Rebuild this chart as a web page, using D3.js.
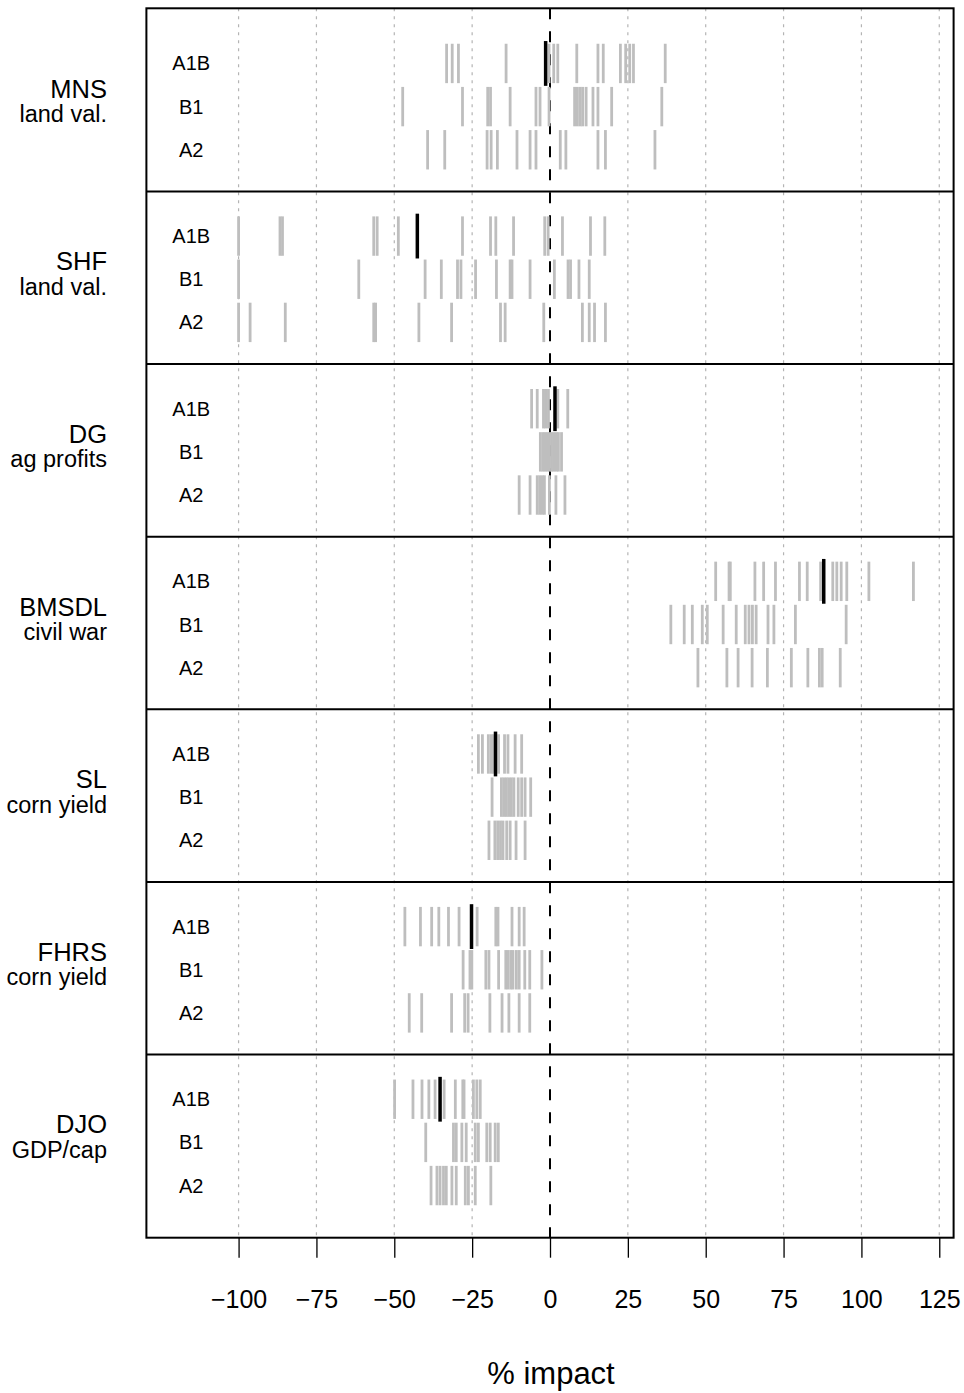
<!DOCTYPE html>
<html>
<head>
<meta charset="utf-8">
<script src="https://cdn.jsdelivr.net/npm/d3@7"></script>
<style>
  body { margin: 0; background: #fff; }
  svg { display: block; font-family: "Liberation Sans", Arial, sans-serif; }
</style>
</head>
<body>
<div id="chart"></div>
<script>
// studies, top to bottom
const studies = ["MNS", "SHF", "DG", "BMSDL", "SL", "FHRS", "DJO"];
const outcomes = ["land val.", "land val.", "ag profits", "civil war", "corn yield", "corn yield", "GDP/cap"];
const scenarios = ["A1B", "B1", "A2"];

// model impacts (%), one list per scenario: A1B, B1, A2
const mns = [
  [-33.2, -31.4, -29.4, -14.1, -0.3, 1.2, 2.5, 8.6, 15.4, 17.1, 22.6, 24.3, 25.6, 26.8, 37.0],
  [-47.3, -28.1, -20.0, -19.1, -12.8, -4.5, -3.2, -0.3, 7.9, 8.8, 9.7, 10.5, 11.6, 13.8, 15.4, 19.8, 35.9],
  [-39.3, -33.8, -20.2, -18.9, -16.9, -10.6, -6.4, -4.5, 3.3, 5.1, 15.4, 17.8, 33.7]
];
const shf = [
  [-100, -86.7, -85.9, -56.6, -55.5, -48.7, -28.1, -19.1, -17.4, -11.7, -1.7, -0.6, 4.0, 13.0, 17.6],
  [-100, -61.4, -40.1, -34.9, -29.7, -28.6, -23.9, -17.2, -12.8, -12.2, -6.4, 1.4, 5.8, 6.6, 9.3, 12.6],
  [-100, -96.3, -85.0, -56.6, -56.0, -42.1, -31.6, -15.9, -14.4, -2.0, 10.4, 12.6, 14.3, 17.8]
];
const dg = [
  [-5.9, -4.1, -2.1, -1.4, -0.5, 2.5, 5.7],
  [-3.1, -2.3, -1.6, -0.9, -0.2, 0.5, 1.2, 2.0, 2.7, 3.7],
  [-9.9, -6.4, -4.1, -3.3, -2.5, -1.8, -0.2, 1.9, 4.8]
];
const bmsdl = [
  [53.2, 57.5, 57.9, 65.8, 68.6, 72.4, 80.1, 82.6, 86.9, 90.8, 92.1, 93.5, 95.3, 102.4, 116.7],
  [38.8, 43.1, 45.7, 48.9, 50.5, 55.6, 59.8, 62.7, 63.9, 65.0, 66.2, 70.0, 71.9, 78.8, 95.1],
  [47.5, 56.8, 60.4, 64.9, 69.8, 77.5, 82.8, 86.5, 87.4, 93.2]
];
const sl = [
  [-23.0, -21.7, -19.8, -18.9, -18.2, -16.5, -14.6, -13.5, -11.2, -9.1],
  [-18.6, -15.6, -14.8, -14.0, -13.2, -12.4, -11.6, -10.2, -9.1, -8.0, -6.2],
  [-19.6, -17.7, -16.8, -15.9, -15.1, -13.9, -12.8, -10.9, -8.0]
];
const fhrs = [
  [-46.6, -41.6, -38.0, -35.7, -32.6, -29.2, -23.4, -17.4, -16.7, -12.2, -9.9, -8.3],
  [-27.9, -25.7, -25.1, -20.6, -19.6, -16.5, -14.2, -13.5, -12.6, -11.9, -10.8, -9.9, -8.1, -6.5, -2.6],
  [-45.2, -41.2, -31.6, -27.4, -26.3, -19.3, -15.4, -13.2, -9.9, -6.5]
];
const djo = [
  [-49.9, -44.0, -41.1, -38.9, -36.9, -34.0, -30.4, -28.0, -27.6, -24.6, -23.5, -22.4],
  [-39.9, -31.0, -30.1, -28.3, -26.9, -24.0, -23.0, -20.3, -19.2, -17.6, -16.6],
  [-38.2, -36.3, -35.3, -34.2, -33.3, -31.5, -30.1, -27.2, -26.2, -24.0, -19.0]
];
const impacts = [mns, shf, dg, bmsdl, sl, fhrs, djo];

// A1B ensemble mean per study
const means = [-1.4, -42.6, 1.6, 87.9, -17.5, -25.2, -35.3];

const xTicks = [-100, -75, -50, -25, 0, 25, 50, 75, 100, 125];

const width = 964, height = 1393;
const plotTop = 8.3, plotBottom = 1237.7;

const svg = d3.select("#chart").append("svg")
    .attr("width", width)
    .attr("height", height);

const x = d3.scaleLinear().domain([-129.6, 129.6]).range([146.4, 953.6]);
// each study takes 4 units: rows at 1,2,3, separators at multiples of 4
const y = d3.scaleLinear().domain([-0.243, 28.243]).range([plotTop, plotBottom]);
const rowY = (p, r) => y(p * 4 + r + 1) + 1.5;

// dashed grid
svg.append("g").selectAll("line")
    .data(xTicks.filter(d => d !== 0))
  .enter().append("line")
    .attr("x1", d => x(d)).attr("x2", d => x(d))
    .attr("y1", plotTop).attr("y2", plotBottom)
    .attr("stroke", "#b4b4b4")
    .attr("stroke-width", 1.2)
    .attr("stroke-dasharray", "3,5");

// zero line
svg.append("line")
    .attr("x1", x(0)).attr("x2", x(0))
    .attr("y1", plotTop).attr("y2", plotBottom)
    .attr("stroke", "#000")
    .attr("stroke-width", 2)
    .attr("stroke-dasharray", "11,12");

// model ticks
const bars = [];
impacts.forEach((study, p) => {
  study.forEach((vals, r) => {
    vals.forEach(v => bars.push({ p, r, v }));
  });
});

svg.append("g").selectAll("line")
    .data(bars)
  .enter().append("line")
    .attr("x1", d => x(d.v)).attr("x2", d => x(d.v))
    .attr("y1", d => rowY(d.p, d.r) - 19.7)
    .attr("y2", d => rowY(d.p, d.r) + 19.7)
    .attr("stroke", "#bebebe")
    .attr("stroke-width", 2.8);

// means
svg.append("g").selectAll("line")
    .data(means)
  .enter().append("line")
    .attr("x1", d => x(d)).attr("x2", d => x(d))
    .attr("y1", (d, p) => rowY(p, 0) - 22.4)
    .attr("y2", (d, p) => rowY(p, 0) + 22.4)
    .attr("stroke", "#000")
    .attr("stroke-width", 3.5);

// separators and box
svg.append("g").selectAll("line")
    .data(d3.range(1, studies.length))
  .enter().append("line")
    .attr("x1", x.range()[0]).attr("x2", x.range()[1])
    .attr("y1", d => y(d * 4)).attr("y2", d => y(d * 4))
    .attr("stroke", "#000")
    .attr("stroke-width", 2);

svg.append("rect")
    .attr("x", x.range()[0]).attr("y", plotTop)
    .attr("width", x.range()[1] - x.range()[0])
    .attr("height", plotBottom - plotTop)
    .attr("fill", "none")
    .attr("stroke", "#000")
    .attr("stroke-width", 2);

// scenario labels
const rowLabels = [];
studies.forEach((s, p) => scenarios.forEach((sc, r) => rowLabels.push({ p, r, sc })));
svg.append("g").selectAll("text")
    .data(rowLabels)
  .enter().append("text")
    .attr("x", x(-115.2))
    .attr("y", d => rowY(d.p, d.r) + 7)
    .attr("text-anchor", "middle")
    .attr("font-size", 20)
    .text(d => d.sc);

// study labels in the left margin
const lab = svg.append("g").selectAll("g")
    .data(studies)
  .enter().append("g");

lab.append("text")
    .attr("x", 107)
    .attr("y", (d, p) => rowY(p, 1) - 9)
    .attr("text-anchor", "end")
    .attr("font-size", 25.5)
    .text(d => d);

lab.append("text")
    .attr("x", 107)
    .attr("y", (d, p) => rowY(p, 1) + 15.4)
    .attr("text-anchor", "end")
    .attr("font-size", 23.5)
    .text((d, p) => outcomes[p]);

// x axis
const xAxis = svg.append("g")
    .attr("transform", `translate(0,${plotBottom})`)
    .call(d3.axisBottom(x)
        .tickValues(xTicks)
        .tickSize(20)
        .tickPadding(32.5)
        .tickFormat(d => d < 0 ? "\u2212" + Math.abs(d) : String(d)));

xAxis.select(".domain").remove();
xAxis.selectAll(".tick line").attr("stroke", "#000").attr("stroke-width", 1.3);
xAxis.selectAll(".tick text")
    .attr("fill", "#000")
    .attr("font-size", 25)
    .attr("font-family", "'Liberation Sans', Arial, sans-serif");

svg.append("text")
    .attr("x", 551)
    .attr("y", 1384)
    .attr("text-anchor", "middle")
    .attr("font-size", 31)
    .text("% impact");
</script>
</body>
</html>
